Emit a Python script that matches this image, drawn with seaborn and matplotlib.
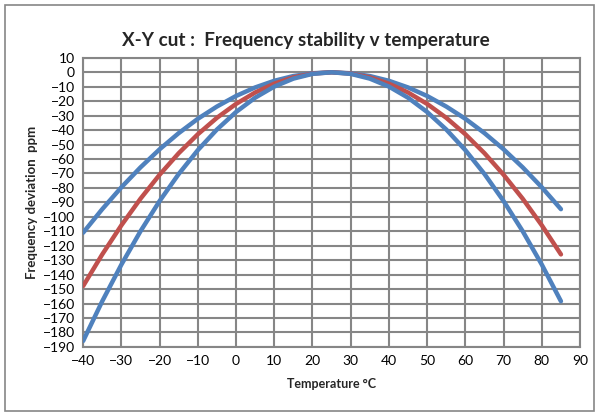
import matplotlib
matplotlib.use("Agg")
import matplotlib.pyplot as plt
import seaborn as sns
import pandas as pd
from matplotlib.patches import Rectangle

# temperatures (deg C) and frequency deviation (ppm)
temps = [-40, -35, -30, -25, -20, -15, -10, -5, 0, 5, 10, 15, 20, 25,
         30, 35, 40, 45, 50, 55, 60, 65, 70, 75, 80, 85]
upper = [-111, -94.7, -79.6, -65.8, -53.3, -42.1, -32.2, -23.7, -16.4, -10.5, -5.9, -2.6, -0.7, 0,
         -0.7, -2.6, -5.9, -10.5, -16.4, -23.7, -32.2, -42.1, -53.3, -65.8, -79.6, -94.7]
nominal = [-147.9, -126, -105.9, -87.5, -70.9, -56, -42.9, -31.5, -21.9, -14, -7.9, -3.5, -0.9, 0,
           -0.9, -3.5, -7.9, -14, -21.9, -31.5, -42.9, -56, -70.9, -87.5, -105.9, -126]
lower = [-185.9, -158.4, -133.1, -110, -89.1, -70.4, -53.9, -39.6, -27.5, -17.6, -9.9, -4.4, -1.1, 0,
         -1.1, -4.4, -9.9, -17.6, -27.5, -39.6, -53.9, -70.4, -89.1, -110, -133.1, -158.4]

x_ticks = list(range(-40, 91, 10))
y_ticks = list(range(-190, 11, 10))

df = pd.DataFrame({"Temperature": temps * 3,
                   "Deviation": upper + nominal + lower,
                   "Curve": ["upper"] * len(temps) + ["nominal"] * len(temps) + ["lower"] * len(temps)})

sns.set_style("white")
plt.rcParams["font.family"] = ["Lato", "DejaVu Sans"]

fig = plt.figure(figsize=(5.98, 4.13), dpi=100)
ax = fig.add_axes([0.139, 0.160, 0.831, 0.700])

palette = {"upper": "#4F81BD", "nominal": "#C0504D", "lower": "#4F81BD"}
sns.lineplot(data=df, x="Temperature", y="Deviation", hue="Curve", palette=palette,
             linewidth=3.2, legend=False, ax=ax, zorder=3)

ax.set_xlim(-40, 90)
ax.set_ylim(-190, 10)
ax.set_xticks(x_ticks)
ax.set_yticks(y_ticks)
ax.tick_params(axis="both", labelsize=10, colors="#000000", length=3, width=1.2,
               color="#868686", direction="out", pad=3)
ax.grid(True, color="#868686", linewidth=1.5)
ax.set_axisbelow(True)
for s in ax.spines.values():
    s.set_color("#868686")
    s.set_linewidth(1.5)

ax.set_xlabel("Temperature °C", fontsize=9, fontweight="bold", labelpad=8)
ax.set_ylabel("Frequency deviation  ppm", fontsize=9.5, fontweight="bold", labelpad=3)
fig.text(0.512, 0.903, "X-Y cut :  Frequency stability v temperature", fontsize=13.6,
         fontweight="bold", ha="center", va="center")

# outer chart frame
fig.patches.append(Rectangle((0.008, 0.004), 0.986, 0.985, transform=fig.transFigure,
                             fill=False, edgecolor="#868686", linewidth=1.2))

fig.savefig("out.png", dpi=100)
